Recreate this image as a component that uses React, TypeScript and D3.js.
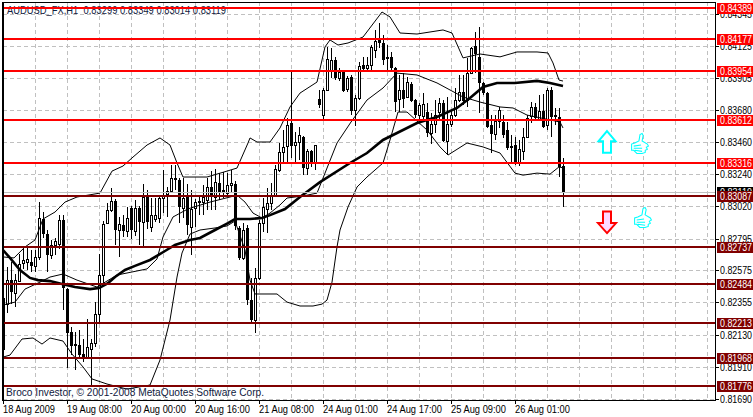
import React from "react";
import * as d3 from "d3";

// All prices are in points (1 point = 0.00001)
const title = "AUDUSD_FX,H1  0.83299 0.83349 0.83014 0.83119";
const footer = "Broco Investor, © 2001-2008 MetaQuotes Software Corp.";
const highs = [82425,82599,82633,82550,82688,82737,82737,82716,82716,83047,82978,82854,82785,82799,82957,82957,82453,82184,82149,82163,82101,82239,82101,82356,82688,82916,83040,83144,83068,82944,82957,83013,83020,83061,83020,83171,83130,83075,83075,83082,83268,83151,83303,83303,83213,83213,83171,83130,83068,83095,83164,83213,83261,83276,83247,83254,83247,83268,83192,82882,82902,82888,82523,82592,82923,83075,83144,83178,83303,83455,83545,83628,83945,83531,83566,83504,83414,83407,83441,83821,83835,84119,84112,84050,83973,83959,83918,83925,83786,84014,84050,84050,84132,84236,84284,84201,84132,84084,83980,83925,83938,83911,83876,83759,83731,83800,83731,83662,83752,83766,83752,83773,83683,83835,83925,83925,84043,84119,84222,84257,83876,83807,83648,83648,83704,83648,83600,83510,83497,83476,83559,83648,83738,83731,83786,83793,83835,83842,83697,83697,83349];
const bodyTops = [82384,82508,82508,82508,82619,82647,82654,82633,82668,82937,82930,82826,82751,82778,82923,82923,82446,82149,82066,82059,81997,82046,82073,82273,82543,82895,82992,83054,83054,82895,82888,82937,83006,83006,83006,83082,83082,82957,82957,83075,83095,83123,83213,83213,83199,83075,83082,82999,83047,83054,83082,83151,83151,83185,83178,83130,83164,83178,83171,82868,82854,82868,82370,82523,82902,83013,83040,83089,83276,83393,83428,83579,83593,83462,83510,83497,83400,83400,83441,83759,83821,84036,84028,84028,83945,83945,83904,83911,83766,83987,83994,83994,84119,84160,84174,84146,84050,84050,83973,83821,83821,83876,83862,83752,83717,83724,83669,83586,83648,83731,83731,83586,83648,83752,83807,83807,83938,84112,84126,84050,83869,83800,83579,83607,83683,83600,83545,83435,83441,83414,83497,83628,83704,83704,83676,83676,83821,83821,83648,83635,83299];
const bodyBottoms = [82032,82342,82425,82418,82501,82626,82633,82606,82606,82668,82826,82681,82681,82751,82757,82453,82142,82053,82053,81990,81976,81976,82032,82073,82273,82543,82902,82992,82854,82854,82847,82847,82854,82847,82909,82909,82909,82875,82930,82937,83075,83102,83123,83199,83013,83006,82888,82875,83006,83047,83047,83061,83082,83082,83116,83109,83109,83164,82882,82661,82661,82370,82232,82232,82523,82902,82999,83040,83095,83268,83393,83435,83435,83441,83462,83283,83283,83317,83317,83717,83648,83821,83959,83904,83904,83814,83828,83676,83683,83766,83966,83973,83994,84098,84146,84028,84036,83973,83738,83759,83759,83773,83745,83648,83648,83641,83524,83524,83586,83669,83469,83469,83586,83648,83752,83745,83752,83938,84070,83869,83800,83566,83517,83517,83607,83510,83421,83421,83317,83317,83400,83497,83641,83628,83621,83566,83579,83635,83635,83290,83119];
const lows = [82032,82280,82342,82322,82494,82585,82578,82564,82564,82647,82799,82564,82654,82681,82723,82301,81901,81990,81887,81976,81942,81976,81769,82046,82218,82480,82895,82978,82751,82668,82806,82806,82792,82813,82751,82744,82861,82840,82909,82902,82971,82944,83109,83130,82902,82937,82820,82681,82875,82957,82957,82992,82992,82992,83061,83075,83095,83109,82854,82647,82647,82335,82218,82142,82508,82840,82833,82992,83082,83254,83317,83324,83352,83324,83338,83233,83233,83290,83268,83697,83621,83814,83904,83890,83883,83807,83807,83648,83572,83752,83959,83945,83959,84043,84112,83994,83959,83952,83669,83669,83697,83766,83738,83628,83614,83614,83497,83448,83524,83614,83462,83372,83566,83635,83738,83717,83704,83931,83938,83662,83786,83559,83386,83476,83559,83490,83407,83317,83303,83296,83338,83490,83593,83614,83607,83559,83545,83497,83579,83220,83014];
const directions = "WWBWWWWBWWBBWWWBBBBBBWWWWWWWBWBWBWBWBWWWWWWBBWBWWWWWBWBBWWBBWBBWWWWWWWWWBWWBWBWBWWWBWBWBWWBWWWBBBBBWBWBBWWBWWWBWWWWBWWBBBBBWWBBBBWWWWBWBWBBBB";

const maBars = [0,1.75,4.25,6.75,8.75,11.75,15,18,21.75,24,26.25,28,30.5,33,36.75,40.5,43,46.75,49.25,53,56.25,58,61.75,64.75,66.75,70.5,74.25,79.25,86.75,91,95,98.5,103.5,108.5,113.5,116.75,120,123.5,128,133.5,136.75,140];
const maValues = [82716,82661,82578,82523,82508,82501,82480,82460,82446,82453,82487,82529,82578,82606,82647,82709,82751,82785,82799,82854,82902,82930,82930,82937,82957,82999,83082,83185,83317,83386,83476,83524,83593,83635,83697,83766,83842,83870,83870,83884,83870,83849];
const upperBars = [0,2.75,5.5,8,10,13,15.5,18.5,24.25,27.25,30,32.5,36,39.25,41.75,43.5,45,51,56,58.5,61.25,61.75,63.5,66.75,69.25,71.75,74.25,78.5,80.5,81.75,83.75,86.25,90,94.75,96.75,99.25,103.5,110,112.25,115,119.25,124.25,128.5,133.5,136.25,137.5,139,140];
const upperValues = [82668,82661,82737,82785,82930,82978,83047,83082,83109,83261,83296,83358,83441,83490,83441,83317,83220,83220,83261,83282,83455,83490,83462,83462,83559,83704,83800,83876,84119,84167,84132,84146,84187,84360,84326,84215,84208,84236,84215,84043,84070,84050,84084,84084,84077,84008,83890,83883];
const innerBars = [0,3,5.5,9.25,11.75,15,18.5,23.5,28.5,36,38.5,40,42.5,46.25,51.75,56.75,58.5,60.5,62.5,64.75,66.75,69.25,71,75,78.5,80.5,83.5,87,91,95,98.5,103.5,108.5,115,119.25,124.25,127.5,131,139.25,140];
const innerValues = [82336,82356,82446,82494,82529,82550,82508,82460,82543,82585,82654,82806,82944,83000,83047,83082,83095,83047,82971,82937,82971,83027,83075,83089,83109,83247,83455,83600,83752,83835,83938,83925,83870,83773,83738,83704,83697,83648,83600,83559];
const lowerBars = [0,1.75,4.75,7.5,9.75,11.75,15,17.25,20,22.25,26,31,36.75,39.25,41.75,43.5,44.75,46.75,49.25,53,56,58,60.5,61.75,63,68.5,71,74.25,77.5,79.75,81,82.25,83.5,84.25,86.25,88.5,91,95,96.75,98.75,101,106,109.25,111.25,116,120,124.25,128,130,133.5,136.75,139,140];
const lowerValues = [81976,81990,82101,82108,82066,82108,82087,81997,81908,81825,81790,81755,81783,81956,82232,82529,82695,82826,82854,82868,82882,82916,82716,82508,82412,82412,82356,82329,82329,82342,82370,82494,82737,82854,83013,83151,83220,83317,83476,83669,83669,83545,83428,83372,83455,83428,83386,83247,83233,83247,83240,83290,83283];

const priceTicks = [84345,84125,83905,83680,83460,83240,83020,82795,82575,82355,82130,81910,81690];
const timeLabels = ["18 Aug 2009","19 Aug 08:00","20 Aug 00:00","20 Aug 16:00","21 Aug 08:00","24 Aug 01:00","24 Aug 17:00","25 Aug 09:00","26 Aug 01:00"];
const levelsAbove = [84389,84177,83954,83612,83316];
const levelsBelow = [83087,82737,82484,82213,81968,81776];
const lastPrice = 83119;
const upArrow = { bar: 151, price: 83461 };
const downArrow = { bar: 151, price: 82909 };
const thumbMarks = [{ bar: 159.25, price: 83448 }, { bar: 160, price: 82937 }];

const W = 753, H = 417;
const RIGHT = 715, BOTTOM = 400, LEFT = 3, TOP = 2;
const x = d3.scaleLinear().domain([0, 140]).range([3, 563]);
const y = d3.scaleLinear().domain([84443, 81690]).range([0, 398.5]);
const fmt = (p: number) => (p / 100000).toFixed(5);
const FONT = "'Liberation Sans', Arial, sans-serif";
const RED = "#ff0000", DARK = "#800000", GRID = "#c0c0c0";

const mkLine = (bars: number[], vals: number[]) =>
  d3.line<number>().x((_, i) => x(bars[i])).y(d => y(d))(vals) || "";

const gridXs = d3.range(1, 23).map(k => 3 + 32 * k);

const THUMB = "M-5,-1 L-1,-3 L0,-9 L2,-10 L3,-8 L2,-3 L7,0 L8,2 L6,3 L7,5 L5,6 L5,8 L2,9 L-3,9 L-6,6 L-8,6 L-8,0 Z M-6,2 L1,1 M-6,4 L2,4 M-5,6 L2,7";

export default function App() {
  return (
    <svg width={W} height={H} viewBox={`0 0 ${W} ${H}`}
      style={{ position: "absolute", left: 0, top: 0, background: "#fff", display: "block" }}>
      <g stroke={GRID} strokeWidth={1} strokeDasharray="4 3" shapeRendering="crispEdges">
        {gridXs.map(g => <line key={g} x1={g + 0.5} x2={g + 0.5} y1={TOP} y2={BOTTOM} />)}
        {priceTicks.map(t => <line key={t} x1={LEFT} x2={RIGHT} y1={Math.round(y(t)) + 0.5} y2={Math.round(y(t)) + 0.5} />)}
      </g>
      <text x={7} y={14} fontFamily={FONT} fontSize={10.5} fill="#102040" xmlSpace="preserve"
        textLength={219} lengthAdjust="spacingAndGlyphs">{title}</text>

      <g shapeRendering="crispEdges">
        {highs.map((h, i) => {
          const cx = Math.round(x(i));
          const up = directions[i] === "W";
          const t = Math.round(y(bodyTops[i])), b = Math.round(y(bodyBottoms[i]));
          return (
            <g key={i}>
              <line x1={cx + 0.5} x2={cx + 0.5} y1={y(h)} y2={y(lows[i])} stroke="#000" />
              {up
                ? <rect x={cx - 0.5} y={t + 0.5} width={2} height={Math.max(b - t, 1)} fill="#fff" stroke="#000" />
                : <rect x={cx - 1} y={t} width={3} height={Math.max(b - t, 1)} fill="#000" />}
            </g>
          );
        })}
      </g>

      <g fill="none" stroke="#000">
        <path d={mkLine(upperBars, upperValues)} strokeWidth={1} />
        <path d={mkLine(innerBars, innerValues)} strokeWidth={1} />
        <path d={mkLine(lowerBars, lowerValues)} strokeWidth={1} />
        <path d={mkLine(maBars, maValues)} strokeWidth={2.6} />
      </g>

      <line x1={LEFT} x2={RIGHT} y1={y(lastPrice) + 0.5} y2={y(lastPrice) + 0.5} stroke={GRID} shapeRendering="crispEdges" />
      <g shapeRendering="crispEdges" strokeWidth={2}>
        {levelsAbove.map(l => <line key={l} x1={LEFT} x2={RIGHT} y1={Math.round(y(l))} y2={Math.round(y(l))} stroke={RED} />)}
        {levelsBelow.map(l => <line key={l} x1={LEFT} x2={RIGHT} y1={Math.round(y(l))} y2={Math.round(y(l))} stroke={DARK} />)}
      </g>

      <g>
        <path transform={`translate(${x(upArrow.bar)},${y(upArrow.price)})`}
          d="M0,-11 L8.5,-1 L4,-1 L4,10.5 L-4,10.5 L-4,-1 L-8.5,-1 Z" fill="#fff" stroke="#00ffff" strokeWidth={2} />
        <path transform={`translate(${x(downArrow.bar)},${y(downArrow.price)})`}
          d="M0,11 L9,1 L4,1 L4,-10.5 L-4,-10.5 L-4,1 L-9,1 Z" fill="#ffd8ff" stroke="#ff0000" strokeWidth={2} />
        {thumbMarks.map((m, i) => (
          <path key={i} transform={`translate(${x(m.bar)},${y(m.price)}) scale(1.05)`} d={THUMB} fill="#fff" stroke="#00ffff" strokeWidth={1} />
        ))}
      </g>

      <text x={6} y={396} fontFamily={FONT} fontSize={10.5} fill="#102040"
        textLength={258} lengthAdjust="spacingAndGlyphs">{footer}</text>

      <g stroke="#000" strokeWidth={1} shapeRendering="crispEdges" fill="none">
        <rect x={2.5} y={2.5} width={RIGHT - 2.5} height={BOTTOM - 2.5} />
        <line x1={2.5} x2={2.5} y1={2} y2={BOTTOM} strokeWidth={2} />
        {priceTicks.map(t => <line key={t} x1={RIGHT} x2={RIGHT + 4} y1={Math.round(y(t)) + 0.5} y2={Math.round(y(t)) + 0.5} />)}
        {timeLabels.map((_, i) => <line key={i} x1={3.5 + 64 * i} x2={3.5 + 64 * i} y1={BOTTOM} y2={BOTTOM + 4} />)}
      </g>
      <g fontFamily={FONT} fontSize={10.5} fill="#000">
        {priceTicks.map(t => <text key={t} x={720} y={Math.round(y(t)) + 4} textLength={32} lengthAdjust="spacingAndGlyphs">{fmt(t)}</text>)}
        {timeLabels.map((l, i) => <text key={l} x={3 + 64 * i} y={413} textLength={i === 0 ? 52 : 55} lengthAdjust="spacingAndGlyphs">{l}</text>)}
      </g>

      <g fontFamily={FONT} fontSize={10.5} fill="#fff">
        <rect x={717} y={y(lastPrice) - 5} width={36} height={11} fill="#000" shapeRendering="crispEdges" />
        <text x={720} y={y(lastPrice) + 4} textLength={32} lengthAdjust="spacingAndGlyphs">{fmt(lastPrice)}</text>
        {[...levelsAbove.map(l => ({ l, c: RED })), ...levelsBelow.map(l => ({ l, c: DARK }))].map(({ l, c }) => (
          <g key={l}>
            <rect x={717} y={Math.round(y(l)) - 5} width={36} height={11} fill={c} shapeRendering="crispEdges" />
            <text x={720} y={Math.round(y(l)) + 4} textLength={32} lengthAdjust="spacingAndGlyphs">{fmt(l)}</text>
          </g>
        ))}
      </g>
    </svg>
  );
}
